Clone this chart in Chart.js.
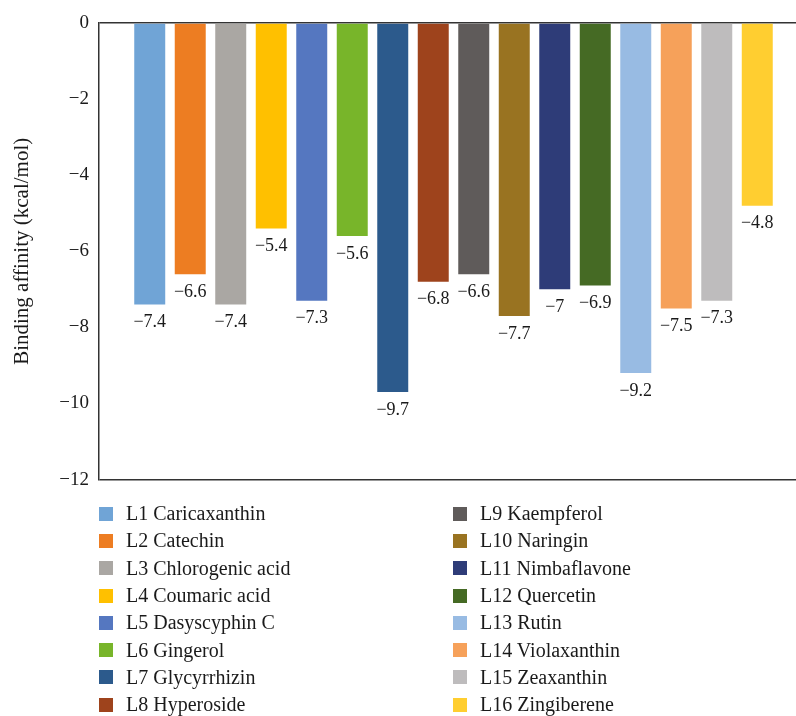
<!DOCTYPE html>
<html lang="en">
<head>
    <meta charset="UTF-8">
    <title>Binding affinity of ligands</title>
    <script src="https://cdn.jsdelivr.net/npm/chart.js"></script>
    <style>
        body {
            margin: 0;
            background: white;
            overflow: hidden;
            width: 796px;
            height: 716px;
            position: relative;
            font-family: "Liberation Serif", "DejaVu Serif", serif;
        }
        .chart-box {
            position: absolute;
            left: 0;
            top: 0;
            width: 808px;
            height: 501px;
        }
        .legend {
            position: absolute;
            top: 500px;
            left: 99px;
            display: grid;
            grid-template-columns: 354px 300px;
            grid-auto-flow: column;
            grid-template-rows: repeat(8, 27.3px);
        }
        .legend-item {
            display: flex;
            align-items: center;
            font-size: 20px;
            color: #1a1a1a;
            white-space: nowrap;
        }
        .legend-swatch {
            width: 14px;
            height: 14px;
            margin-right: 13px;
        }
    </style>
</head>
<body>

    <div class="chart-box">
        <canvas id="bindingChart"></canvas>
    </div>
    <div class="legend" id="legend"></div>

    <script>
        const ligands = [
            "L1 Caricaxanthin", "L2 Catechin", "L3 Chlorogenic acid", "L4 Coumaric acid",
            "L5 Dasyscyphin C", "L6 Gingerol", "L7 Glycyrrhizin", "L8 Hyperoside",
            "L9 Kaempferol", "L10 Naringin", "L11 Nimbaflavone", "L12 Quercetin",
            "L13 Rutin", "L14 Violaxanthin", "L15 Zeaxanthin", "L16 Zingiberene"
        ];
        const affinity = [-7.4, -6.6, -7.4, -5.4, -7.3, -5.6, -9.7, -6.8, -6.6, -7.7, -7, -6.9, -9.2, -7.5, -7.3, -4.8];
        const barColors = [
            "#70a4d6", "#ed7d22", "#aaa7a3", "#ffc000", "#5577c0", "#78b52a", "#2c5a8c", "#9e431c",
            "#5f5b5a", "#997321", "#2e3c78", "#456a24", "#98bbe3", "#f6a15a", "#bebcbd", "#ffce30"
        ];
        const yTicks = [0, -2, -4, -6, -8, -10, -12];

        const minus = v => String(v).replace("-", "\u2212");

        // value labels under the bar ends
        const valueLabels = {
            id: "valueLabels",
            afterDatasetsDraw(chart) {
                const ctx = chart.ctx;
                ctx.save();
                ctx.font = "18px 'Liberation Serif', serif";
                ctx.fillStyle = "#1a1a1a";
                ctx.textAlign = "center";
                ctx.textBaseline = "middle";
                chart.data.datasets.forEach((ds, i) => {
                    const bar = chart.getDatasetMeta(i).data[0];
                    ctx.fillText(minus(ds.data[0]), bar.x, bar.y + 18);
                });
                ctx.restore();
            }
        };

        const ctx = document.getElementById("bindingChart").getContext("2d");
        new Chart(ctx, {
            type: "bar",
            data: {
                labels: [""],
                datasets: ligands.map((name, i) => ({
                    label: name,
                    data: [affinity[i]],
                    backgroundColor: barColors[i],
                    categoryPercentage: 0.914,
                    barPercentage: 0.765
                }))
            },
            options: {
                responsive: true,
                maintainAspectRatio: false,
                animation: false,
                layout: { padding: { top: 23, bottom: 1, left: 0, right: 0 } },
                plugins: {
                    legend: { display: false },
                    tooltip: { enabled: false }
                },
                scales: {
                    x: { display: false },
                    y: {
                        min: -12,
                        max: 0,
                        afterFit: axis => { axis.width = 99; },
                        afterBuildTicks: axis => { axis.ticks = yTicks.map(v => ({ value: v })); },
                        border: { display: true, color: "#333", width: 1.5 },
                        grid: {
                            drawTicks: false,
                            lineWidth: 1.5,
                            color: c => (c.tick && (c.tick.value === 0 || c.tick.value === -12)) ? "#333" : "rgba(0,0,0,0)"
                        },
                        ticks: {
                            padding: 10,
                            color: "#1a1a1a",
                            font: { family: "'Liberation Serif', serif", size: 19 },
                            callback: v => minus(v)
                        },
                        title: {
                            display: true,
                            text: "Binding affinity (kcal/mol)",
                            color: "#1a1a1a",
                            font: { family: "'Liberation Serif', serif", size: 21 },
                            padding: { top: 10, bottom: 2 }
                        }
                    }
                }
            },
            plugins: [valueLabels]
        });

        // two-column legend, filled column by column
        const legend = document.getElementById("legend");
        ligands.forEach((name, i) => {
            const item = document.createElement("div");
            item.className = "legend-item";
            item.innerHTML = `<span class="legend-swatch" style="background:${barColors[i]}"></span>${name}`;
            legend.appendChild(item);
        });
    </script>

</body>
</html>
